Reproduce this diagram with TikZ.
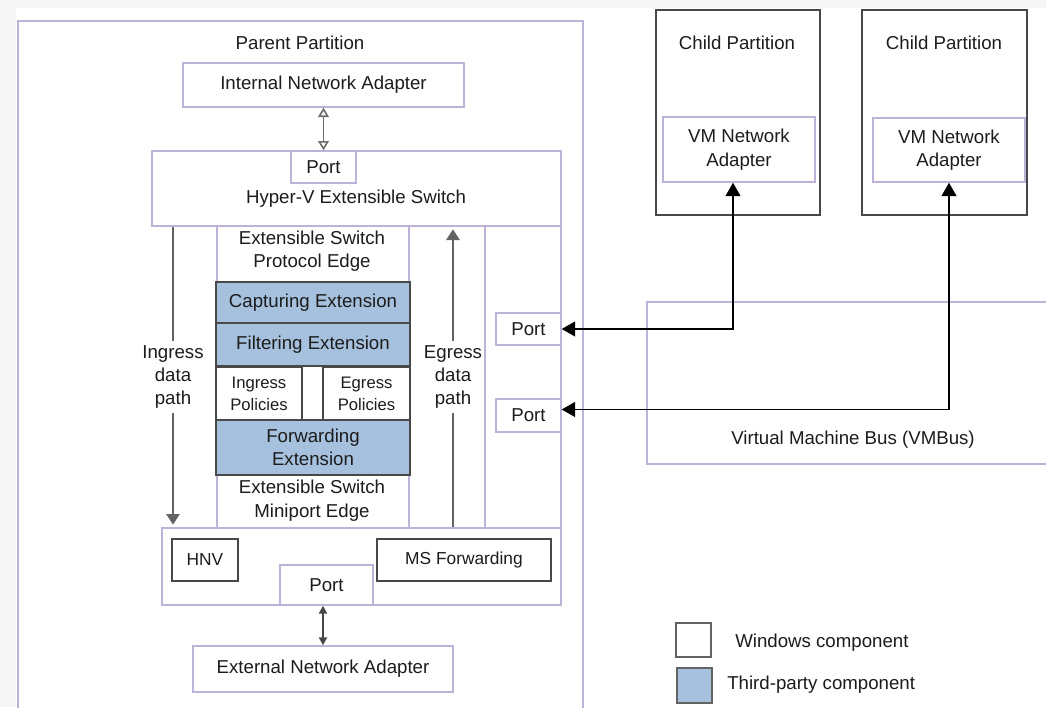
\documentclass[tikz,border=0pt]{standalone}
\usepackage{fontspec}
\setmainfont{Liberation Sans}
\usetikzlibrary{arrows.meta}
\definecolor{lilac}{RGB}{190,178,216}
\definecolor{darkline}{RGB}{72,72,72}
\definecolor{thirdparty}{RGB}{166,193,221}
\definecolor{paper}{RGB}{246,246,246}
\definecolor{ink}{RGB}{28,28,28}

\begin{document}
\begin{tikzpicture}[x=0.75pt,y=-0.75pt,
    every node/.style={text=ink,font=\fontsize{14}{17.6}\selectfont,inner sep=0pt,align=center},
    box/.style 2 args={draw=lilac,line width=1pt,fill=white,minimum width=#1*0.75pt,minimum height=#2*0.75pt},
    darkbox/.style 2 args={draw=darkline,line width=1.4pt,fill=white,minimum width=#1*0.75pt,minimum height=#2*0.75pt},
    ext/.style 2 args={darkbox={#1}{#2},fill=thirdparty},
    small/.style={font=\fontsize{12.5}{16.5}\selectfont},
    pathlabel/.style={inner sep=3pt},
    pathline/.style={draw=darkline!85,line width=1.3pt},
    vmarrow/.style={draw=black,line width=1.3pt,{Triangle[length=10pt,width=11pt]}-{Triangle[length=10pt,width=11pt]}}]
  \useasboundingbox (0,0) rectangle (1046,707);
  \fill[paper] (0,0) rectangle (1046,707);
  \fill[white] (16,8) rectangle (1046,707);

  % parent partition
  \node[box={565}{698}] (parent) at (300.5,370) {};
  \node (parenttitle) at (300,43) {Parent Partition};
  \node[box={281}{44}] (intadapter) at (323.5,85) {Internal Network Adapter};
  \node[box={409}{75}] (switch) at (356.5,188.5) {};
  \node[box={65}{32}] (swport) at (323.5,167) {Port};
  \node (switchtitle) at (356,199) {Hyper-V Extensible Switch};
  \node[box={399}{77}] (bottombox) at (361.5,566.5) {};
  \node[box={192}{302}] (edgecol) at (313,377) {};
  \node[box={76}{302}] (rightcol) at (523,377) {};

  % extension stack
  \node (protoedge) at (312,251) {Extensible Switch\\Protocol Edge};
  \node[ext={194}{41}] (capture) at (313,302.5) {Capturing Extension};
  \node[ext={194}{43}] (filter) at (313,344.5) {Filtering Extension};
  \node[darkbox={86}{53},small] (ingpol) at (259,393.5) {Ingress\\Policies};
  \node[darkbox={87}{53},small] (egpol) at (366.5,393.5) {Egress\\Policies};
  \node[ext={194}{55}] (forward) at (313,447.5) {Forwarding\\Extension};
  \node (miniedge) at (312,500.5) {Extensible Switch\\Miniport Edge};

  \node[box={65}{32}] (port1) at (528.5,329) {Port};
  \node[box={65}{33}] (port2) at (528.5,415.5) {Port};

  \node[darkbox={66}{42},font=\fontsize{13}{16}\selectfont] (hnv) at (205,560) {HNV};
  \node[darkbox={174}{42},font=\fontsize{13}{16}\selectfont] (msfwd) at (464,560) {MS Forwarding};
  \node[box={93}{40}] (botport) at (326.5,585) {Port};
  \node[box={260}{46}] (extadapter) at (323,669) {External Network Adapter};

  % data paths
  \node[pathlabel] (ing) at (173,377) {Ingress\\data\\path};
  \node[pathlabel] (egr) at (453,377) {Egress\\data\\path};
  \draw[pathline] (ing.north) -- (ing |- switch.south);
  \draw[pathline,-{Triangle[length=8pt,width=10pt]},shorten >=2pt] (ing.south) -- (ing |- bottombox.north);
  \draw[pathline] (egr.south) -- (egr |- bottombox.north);
  \draw[pathline,-{Triangle[length=8pt,width=10pt]},shorten >=2pt] (egr.north) -- (egr |- switch.south);

  \draw[draw=darkline!80,line width=1.2pt,{Triangle[open,length=7pt,width=8pt]}-{Triangle[open,length=7pt,width=8pt]}] (intadapter.south) -- (swport.north);
  \draw[draw=darkline,line width=1.5pt,{Triangle[length=6pt,width=6pt]}-{Triangle[length=6pt,width=6pt]}] (extadapter.north) -- (extadapter.north |- botport.south);

  % child partitions
  \node[box={413}{162}] (vmbus) at (853.5,383) {};
  \node (vmbustitle) at (853,440) {Virtual Machine Bus (VMBus)};
  \node[darkbox={164}{205}] (child1) at (738,112.5) {};
  \node (child1title) at (737,43) {Child Partition};
  \node[box={152}{65}] (vmnic1) at (739,149.5) {VM Network\\Adapter};
  \node[darkbox={165}{205}] (child2) at (944.5,112.5) {};
  \node (child2title) at (944,43) {Child Partition};
  \node[box={152}{64}] (vmnic2) at (949,150) {VM Network\\Adapter};

  \draw[vmarrow] (port1.east) -| ([xshift=-4.5pt]vmnic1.south);
  \draw[vmarrow] ([yshift=4.5pt]port2.east) -| (vmnic2.south);

  % legend
  \node[darkbox={35}{34},draw=darkline!85] (winkey) at (693.5,640) {};
  \node[anchor=west] (wintext) at (735,643) {Windows component};
  \node[ext={35}{35},draw=darkline!85] (tpkey) at (694.5,685.5) {};
  \node[anchor=west] (tptext) at (727,685) {Third-party component};
\end{tikzpicture}
\end{document}
